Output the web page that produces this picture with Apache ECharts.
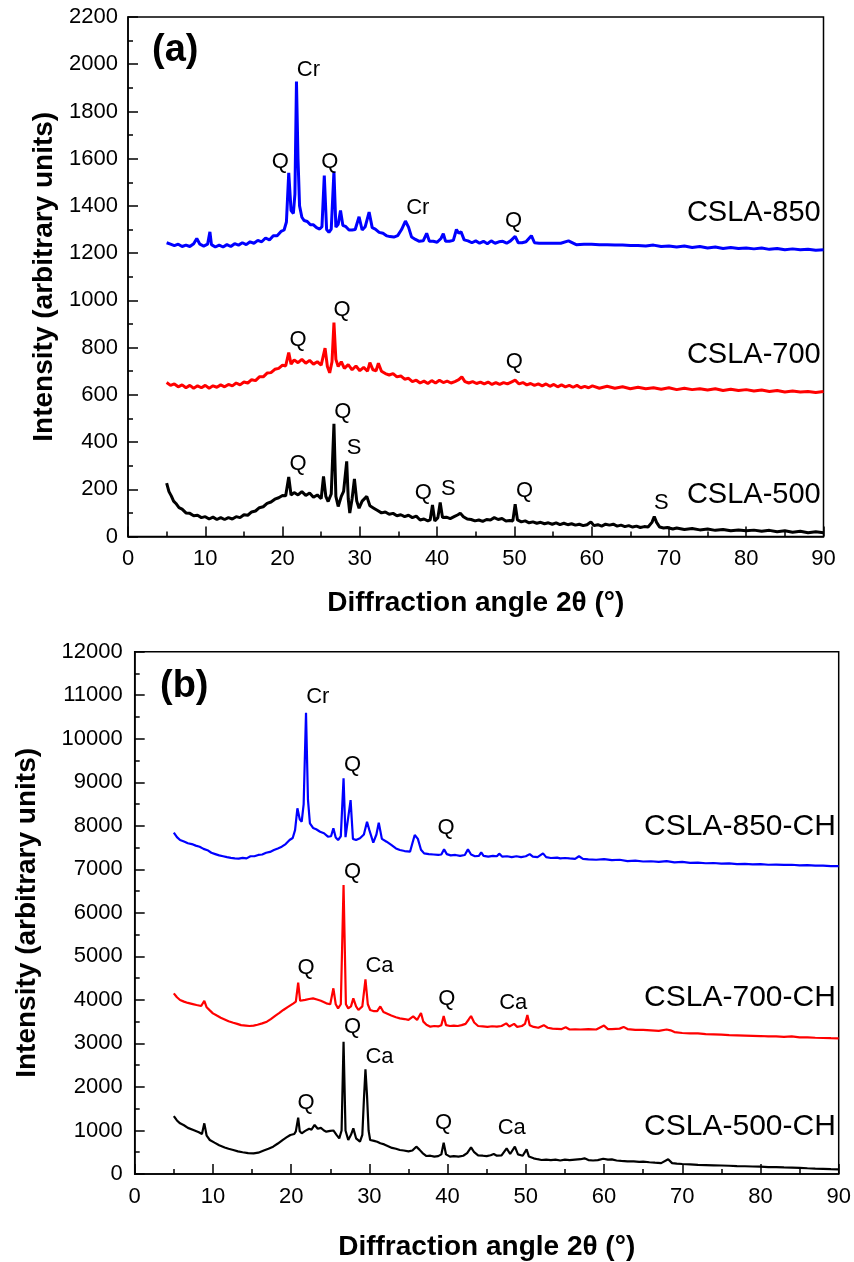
<!DOCTYPE html>
<html>
<head>
<meta charset="utf-8">
<script src="https://cdn.jsdelivr.net/npm/echarts@6/dist/echarts.min.js"></script>
<style>
html,body{margin:0;padding:0;background:#fff;}
#chart{width:854px;height:1262px;}
</style>
</head>
<body>
<div id="chart"></div>
<script>
// ---------- Panel (a) data: [2θ, intensity] ----------
var csla850 = [[5,1244],[5.5,1238],[6,1232],[6.5,1238],[7,1228],[7.5,1234],[8,1228],[8.5,1240],[8.9,1262],[9.3,1238],[9.8,1230],[10.3,1238],[10.6,1290],[10.8,1236],[11.3,1226],[11.8,1234],[12.3,1226],[12.8,1236],[13.3,1228],[13.8,1240],[14.3,1234],[14.8,1244],[15.3,1236],[15.8,1248],[16.3,1242],[16.8,1254],[17.3,1248],[17.8,1264],[18.3,1256],[18.8,1274],[19.3,1274],[19.8,1292],[20.2,1298],[20.5,1332],[20.8,1540],[21.1,1380],[21.4,1368],[21.6,1450],[21.8,1927],[22.0,1600],[22.2,1400],[22.5,1352],[22.8,1338],[23.2,1334],[23.6,1320],[24.0,1320],[24.4,1308],[24.8,1302],[25.1,1312],[25.4,1529],[25.7,1300],[26.0,1288],[26.3,1302],[26.65,1546],[26.9,1310],[27.2,1322],[27.5,1381],[27.8,1318],[28.2,1312],[28.6,1298],[29.0,1298],[29.4,1300],[29.9,1354],[30.3,1298],[30.7,1312],[31.2,1374],[31.6,1308],[32.0,1302],[32.5,1288],[33.0,1284],[33.5,1273],[33.9,1270],[34.4,1268],[34.9,1274],[35.4,1300],[35.9,1336],[36.3,1310],[36.7,1268],[37.2,1258],[37.7,1250],[38.2,1252],[38.65,1284],[39.0,1250],[39.5,1250],[40.0,1246],[40.5,1262],[40.8,1282],[41.1,1250],[41.6,1250],[42.1,1254],[42.5,1300],[42.8,1284],[43.1,1290],[43.5,1256],[44.0,1252],[44.5,1244],[45.0,1252],[45.5,1242],[46.0,1250],[46.5,1240],[47.0,1252],[47.5,1242],[48.0,1248],[48.5,1250],[49.0,1242],[49.5,1252],[50.1,1271],[50.5,1244],[51.0,1244],[51.5,1248],[52.2,1274],[52.6,1244],[53.2,1242],[54.0,1242],[55.0,1242],[56.0,1242],[57.0,1252],[58.0,1236],[59.0,1238],[60.0,1238],[61.0,1236],[62.0,1236],[63.0,1234],[64.0,1234],[65.0,1232],[66.0,1232],[67.0,1230],[68.0,1234],[69.0,1228],[70.0,1230],[71.0,1226],[72.0,1230],[73.0,1224],[74.0,1228],[75.0,1222],[76.0,1226],[77.0,1220],[78.0,1224],[79.0,1220],[80.0,1222],[81.0,1218],[82.0,1222],[83.0,1216],[84.0,1220],[85.0,1214],[86.0,1218],[87.0,1214],[88.0,1216],[89.0,1212],[90.0,1214]];
var csla700 = [[5,652],[5.5,640],[6,646],[6.5,634],[7,642],[7.5,630],[8,640],[8.5,628],[9,638],[9.5,630],[10,640],[10.5,628],[11,638],[11.5,632],[12,642],[12.5,634],[13,644],[13.5,638],[14,650],[14.5,642],[15,654],[15.5,650],[16,664],[16.5,660],[17,676],[17.5,676],[18,692],[18.5,694],[19,708],[19.5,712],[20,726],[20.4,722],[20.8,779],[21.1,730],[21.5,748],[22,736],[22.5,750],[23,734],[23.5,746],[24,730],[24.5,740],[25,726],[25.5,798],[25.8,720],[26.1,693],[26.4,740],[26.65,906],[26.9,750],[27.2,720],[27.6,740],[28,712],[28.5,728],[29,706],[29.5,722],[30,702],[30.5,716],[31,700],[31.3,736],[31.7,706],[32.1,702],[32.4,734],[32.8,700],[33.3,690],[33.8,684],[34.3,690],[34.8,676],[35.3,680],[35.8,666],[36.3,670],[36.8,656],[37.3,662],[37.8,650],[38.3,658],[38.8,648],[39.3,660],[39.8,650],[40.3,662],[40.8,652],[41.3,658],[41.8,650],[42.3,656],[42.8,664],[43.2,676],[43.6,656],[44.1,650],[44.6,656],[45.1,648],[45.6,654],[46.1,646],[46.6,654],[47.1,644],[47.6,652],[48.1,644],[48.6,652],[49.1,646],[49.6,654],[50.1,662],[50.6,646],[51.1,652],[51.6,642],[52.1,648],[52.6,640],[53.1,646],[53.6,638],[54.1,646],[54.6,636],[55.1,644],[55.6,634],[56.1,642],[56.6,634],[57.1,640],[57.6,632],[58.1,640],[58.6,630],[59.1,636],[59.6,630],[60.1,638],[61,628],[62,636],[63,628],[64,634],[65,626],[66,632],[67,626],[68,630],[69,624],[70,630],[71,622],[72,628],[73,622],[74,626],[75,620],[76,626],[77,618],[78,624],[79,618],[80,622],[81,616],[82,620],[83,614],[84,618],[85,612],[86,616],[87,612],[88,614],[89,610],[90,614]];
var csla500 = [[5,226],[5.3,190],[5.6,172],[5.9,150],[6.2,140],[6.6,122],[7,116],[7.5,100],[8,98],[8.5,88],[9,90],[9.5,80],[10,84],[10.5,74],[11,82],[11.5,72],[12,80],[12.5,72],[13,80],[13.5,74],[14,84],[14.5,80],[15,92],[15.5,90],[16,104],[16.5,108],[17,122],[17.5,126],[18,140],[18.5,146],[19,158],[19.5,164],[20,174],[20.4,172],[20.8,252],[21.1,176],[21.5,186],[22,176],[22.5,190],[23,174],[23.5,184],[24,166],[24.5,176],[25,160],[25.3,254],[25.6,170],[25.9,148],[26.3,180],[26.65,477],[26.9,170],[27.2,127],[27.6,170],[27.9,191],[28.3,318],[28.5,160],[28.7,99],[29.0,160],[29.3,244],[29.6,150],[29.9,120],[30.3,150],[30.9,170],[31.3,130],[31.8,120],[32.3,110],[32.8,100],[33.3,104],[33.8,94],[34.3,98],[34.8,88],[35.3,92],[35.8,84],[36.3,90],[36.8,80],[37.3,86],[37.8,70],[38.3,74],[38.8,66],[39.1,70],[39.4,134],[39.7,66],[40.1,80],[40.4,144],[40.7,80],[41.2,82],[41.7,76],[42.2,84],[42.7,92],[43.0,99],[43.4,84],[43.9,74],[44.4,72],[44.9,66],[45.4,70],[45.9,64],[46.4,72],[46.9,70],[47.4,80],[47.9,72],[48.4,76],[48.9,66],[49.4,68],[49.8,66],[50.1,137],[50.4,70],[50.9,62],[51.4,66],[51.9,58],[52.4,62],[52.9,56],[53.4,60],[53.9,54],[54.4,58],[54.9,52],[55.4,58],[55.9,50],[56.4,56],[56.9,50],[57.4,54],[57.9,48],[58.4,52],[58.9,46],[59.4,50],[59.9,62],[60.3,46],[60.8,50],[61.3,44],[61.8,52],[62.3,48],[62.8,52],[63.3,44],[63.8,48],[64.3,42],[64.8,46],[65.3,40],[65.8,44],[66.3,38],[66.8,42],[67.3,40],[67.8,60],[68.1,85],[68.4,60],[68.8,40],[69.3,36],[69.8,38],[70.5,32],[71,36],[72,30],[73,34],[74,28],[75,32],[76,26],[77,30],[78,24],[79,28],[80,24],[81,27],[82,22],[83,26],[84,20],[85,24],[86,18],[87,22],[88,16],[89,20],[90,16]];

// ---------- Panel (b) data ----------
var csla850ch = [[5,7841],[5.4,7740],[5.8,7673],[6.3,7640],[6.8,7600],[7.3,7580],[7.8,7545],[8.3,7520],[8.8,7470],[9.3,7440],[9.8,7380],[10.3,7350],[10.8,7320],[11.3,7300],[11.8,7280],[12.3,7262],[12.8,7252],[13.3,7245],[13.8,7262],[14.3,7252],[14.8,7300],[15.3,7300],[15.8,7330],[16.3,7340],[16.8,7380],[17.3,7400],[17.8,7443],[18.3,7480],[18.8,7520],[19.3,7580],[19.8,7673],[20.2,7720],[20.5,7900],[20.8,8401],[21.1,8150],[21.35,8094],[21.6,8500],[21.9,10598],[22.15,8600],[22.4,8056],[22.8,7950],[23.2,7920],[23.7,7864],[24.2,7830],[24.7,7750],[25.1,7760],[25.4,7941],[25.7,7730],[26.0,7673],[26.35,7760],[26.7,9090],[26.95,7740],[27.2,7712],[27.6,8592],[27.9,7700],[28.3,7673],[28.8,7712],[29.3,7800],[29.7,8094],[30.0,7900],[30.5,7612],[30.9,7800],[31.2,8071],[31.6,7700],[32.2,7635],[32.8,7560],[33.4,7480],[33.9,7443],[34.5,7420],[35.2,7405],[35.5,7600],[35.8,7788],[36.2,7700],[36.6,7450],[37.0,7367],[37.6,7350],[38.2,7340],[38.8,7330],[39.2,7340],[39.55,7459],[39.9,7350],[40.4,7320],[41,7330],[41.6,7310],[42.2,7330],[42.6,7459],[43.0,7340],[43.5,7300],[44.0,7310],[44.3,7390],[44.6,7310],[45.2,7290],[45.8,7310],[46.3,7300],[46.6,7360],[47.0,7290],[47.6,7300],[48.2,7280],[48.8,7300],[49.4,7280],[50.0,7300],[50.5,7350],[50.9,7290],[51.5,7280],[52.2,7367],[52.6,7280],[53.2,7260],[54.0,7270],[54.4,7252],[55.0,7260],[55.6,7250],[56.3,7240],[56.8,7300],[57.3,7240],[58,7230],[59,7220],[60,7235],[61,7210],[62,7220],[63,7190],[64,7200],[65,7180],[66,7185],[67,7170],[68,7190],[69,7160],[70,7170],[71,7150],[72,7155],[73,7140],[74,7145],[75,7130],[76,7135],[77,7120],[78,7125],[79,7115],[80,7120],[81,7105],[82,7110],[83,7100],[84,7105],[85,7090],[86,7095],[87,7085],[88,7085],[89,7075],[90,7075]];
var csla700ch = [[5,4151],[5.4,4060],[5.8,3997],[6.3,3960],[6.8,3930],[7.3,3910],[7.9,3882],[8.5,3860],[8.9,3980],[9.2,3830],[9.6,3760],[10,3691],[10.5,3640],[11,3590],[11.5,3550],[12,3510],[12.6,3476],[13.1,3450],[13.6,3420],[14.2,3410],[14.7,3400],[15.2,3410],[15.7,3430],[16.3,3460],[16.9,3499],[17.4,3560],[18,3640],[18.5,3700],[19,3768],[19.6,3840],[20.3,3921],[20.6,3960],[20.9,4395],[21.15,3980],[21.35,3959],[21.8,4000],[22.3,4020],[22.8,4036],[23.3,4010],[23.8,3980],[24.5,3921],[25.0,3900],[25.4,4266],[25.7,3900],[26.0,3806],[26.35,3900],[26.7,6639],[27.0,3900],[27.3,3806],[27.65,3850],[27.95,4036],[28.3,3850],[28.6,3768],[29.1,3850],[29.5,4473],[29.8,3900],[30.1,3768],[30.6,3740],[31.0,3740],[31.4,3850],[31.8,3720],[32.3,3680],[32.8,3640],[33.4,3600],[33.9,3576],[34.5,3560],[35.0,3540],[35.6,3620],[36.1,3540],[36.6,3700],[36.9,3500],[37.3,3430],[37.8,3385],[38.3,3400],[38.8,3390],[39.2,3420],[39.5,3630],[39.8,3420],[40.3,3400],[40.8,3410],[41.3,3400],[41.8,3420],[42.3,3450],[42.7,3550],[43.0,3630],[43.4,3480],[43.9,3400],[44.5,3390],[45.1,3380],[45.7,3395],[46.3,3385],[46.9,3400],[47.5,3460],[47.9,3390],[48.5,3450],[48.9,3380],[49.5,3400],[49.9,3450],[50.2,3653],[50.5,3420],[51.0,3380],[51.6,3360],[52.3,3420],[52.8,3360],[53.4,3340],[54.0,3335],[54.6,3330],[55.1,3370],[55.6,3320],[56.3,3325],[57,3320],[58,3330],[59,3320],[60.0,3410],[60.5,3330],[61,3330],[62,3340],[62.5,3380],[63,3330],[64,3310],[65,3310],[66,3300],[67,3290],[68,3320],[68.5,3300],[69,3260],[70,3240],[71,3230],[72,3230],[73,3215],[74,3210],[75,3200],[76,3190],[77,3185],[78,3180],[79,3175],[80,3170],[81,3160],[82,3160],[83,3150],[84,3160],[85,3140],[86,3140],[87,3130],[88,3125],[89,3120],[90,3117]];
var csla500ch = [[5,1332],[5.4,1230],[5.8,1164],[6.3,1120],[6.8,1060],[7.5,1011],[8.2,960],[8.6,920],[8.9,1164],[9.2,880],[9.6,781],[10.2,720],[10.8,660],[11.5,610],[12.0,580],[12.6,551],[13.2,520],[13.8,500],[14.5,480],[15.2,475],[15.8,490],[16.5,540],[17.1,580],[17.7,628],[18.3,700],[18.9,780],[19.4,840],[19.9,896],[20.4,920],[20.6,980],[20.9,1293],[21.1,980],[21.35,934],[21.8,990],[22.3,1040],[22.6,1020],[23.0,1126],[23.4,1040],[23.8,1060],[24.2,1000],[24.5,973],[25.0,990],[25.4,1000],[25.8,900],[26.15,819],[26.45,1000],[26.7,3040],[26.95,1000],[27.3,781],[27.65,900],[27.95,1049],[28.3,820],[28.8,742],[29.1,900],[29.3,1700],[29.5,2405],[29.7,1800],[29.9,1000],[30.1,781],[30.6,760],[31.0,740],[31.4,705],[31.9,680],[32.4,640],[32.9,600],[33.4,580],[33.9,551],[34.4,540],[35.0,520],[35.5,540],[36.0,628],[36.4,560],[36.8,480],[37.3,413],[37.8,420],[38.3,400],[38.8,410],[39.2,450],[39.5,720],[39.8,450],[40.3,400],[40.8,410],[41.4,400],[42.0,420],[42.5,480],[43.0,613],[43.4,500],[43.9,430],[44.5,420],[45.0,410],[45.5,430],[45.9,459],[46.3,420],[46.9,430],[47.55,590],[48.0,460],[48.6,628],[49.0,450],[49.6,420],[50.1,567],[50.4,400],[51.0,360],[51.5,340],[52.0,322],[52.6,330],[53.2,320],[53.8,330],[54.4,310],[55.0,330],[55.6,320],[56.3,330],[57.0,340],[57.5,360],[58.0,320],[58.6,310],[59.2,320],[59.9,350],[60.1,383],[60.5,330],[61.0,337],[61.6,310],[62.2,300],[63.0,290],[63.8,290],[64.5,280],[65.0,283],[65.8,270],[66.5,260],[67.3,250],[68.2,337],[68.7,250],[69.3,240],[70,230],[71,220],[72,210],[73,205],[74,200],[75,195],[76,190],[77,180],[78,178],[79,172],[80,169],[81,160],[82,158],[83,150],[84,145],[85,140],[86,132],[87,125],[88,120],[89,112],[90,107]];

// ---------- annotations [2θ, intensity, text] ----------
var peakLabelsA = [[23.35,1977,'Cr'],[19.7,1586,'Q'],[26.1,1586,'Q'],[37.5,1393,'Cr'],[49.9,1338,'Q'],[27.7,960,'Q'],[22.0,834,'Q'],[50.0,741,'Q'],[27.8,526,'Q'],[29.25,376,'S'],[22.0,306,'Q'],[38.2,186,'Q'],[41.45,203,'S'],[51.3,191,'Q'],[69.0,143,'S']];
var sampleLabelsA = [[89.7,1371,'CSLA-850'],[89.7,770,'CSLA-700'],[89.7,177,'CSLA-500']];
var peakLabelsB = [[23.4,10958,'Cr'],[27.85,9395,'Q'],[39.8,7949,'Q'],[27.85,6945,'Q'],[21.9,4726,'Q'],[31.3,4778,'Ca'],[39.9,4013,'Q'],[48.4,3921,'Ca'],[27.85,3370,'Q'],[31.3,2695,'Ca'],[21.9,1638,'Q'],[39.5,1179,'Q'],[48.2,1050,'Ca']];
var sampleLabelsB = [[89.7,7972,'CSLA-850-CH'],[89.7,4043,'CSLA-700-CH'],[89.7,1087,'CSLA-500-CH']];

var FONT = '"Liberation Sans", Arial, Helvetica, sans-serif';

function xAxisCfg(gi, nameGap, margin) {
  return {
    type:'value', gridIndex:gi, min:0, max:90, interval:10,
    name:'Diffraction angle 2\u03b8 (\u00b0)', nameLocation:'middle', nameGap:nameGap,
    nameTextStyle:{fontFamily:FONT, fontSize:28, fontWeight:'bold', color:'#000'},
    axisLine:{show:true, onZero:false, lineStyle:{color:'#000', width:1.5}},
    axisTick:{show:true, inside:true, length:10, lineStyle:{color:'#000', width:1.5}},
    minorTick:{show:true, splitNumber:2, length:5, lineStyle:{color:'#000', width:1.5}},
    splitLine:{show:false}, minorSplitLine:{show:false},
    axisLabel:{fontFamily:FONT, fontSize:22, color:'#000', margin:margin,
      formatter:function(v){return String(v);}}
  };
}
function yAxisCfg(gi, max, interval, nameGap, margin) {
  return {
    type:'value', gridIndex:gi, min:0, max:max, interval:interval,
    name:'Intensity (arbitrary units)', nameLocation:'middle', nameGap:nameGap, nameRotate:90,
    nameTextStyle:{fontFamily:FONT, fontSize:28, fontWeight:'bold', color:'#000'},
    axisLine:{show:true, onZero:false, lineStyle:{color:'#000', width:1.5}},
    axisTick:{show:true, inside:true, length:10, lineStyle:{color:'#000', width:1.5}},
    minorTick:{show:true, splitNumber:2, length:5, lineStyle:{color:'#000', width:1.5}},
    splitLine:{show:false}, minorSplitLine:{show:false},
    axisLabel:{fontFamily:FONT, fontSize:22, color:'#000', margin:margin,
      formatter:function(v){return String(v);}}
  };
}
function lineSeries(data, color, gi, w) {
  return {type:'line', data:data, xAxisIndex:gi, yAxisIndex:gi, showSymbol:false, symbol:'none',
    lineStyle:{color:color, width:w, opacity:1}, itemStyle:{color:color}, silent:true, animation:false, z:2};
}
function textSeries(arr, gi, fontSize, pos) {
  return {type:'scatter', xAxisIndex:gi, yAxisIndex:gi, symbolSize:1, silent:true, animation:false,
    itemStyle:{color:'rgba(255,255,255,0)', opacity:1}, z:5,
    data:arr.map(function(a){return {value:[a[0],a[1]], name:a[2]};}),
    label:{show:true, formatter:'{b}', position:pos, distance:0, fontFamily:FONT, fontSize:fontSize,
      color:'#000000', opacity:1, textBorderWidth:0}};
}

var chart = echarts.init(document.getElementById('chart'), null, {renderer:'canvas'});
chart.setOption({
  backgroundColor:'#ffffff',
  animation:false,
  grid:[
    {left:128, top:17, width:695.5, height:519.5, show:true, borderColor:'#000', borderWidth:1.5, backgroundColor:'rgba(0,0,0,0)'},
    {left:134.7, top:651.7, width:704, height:522.3, show:true, borderColor:'#000', borderWidth:1.5, backgroundColor:'rgba(0,0,0,0)'}
  ],
  xAxis:[xAxisCfg(0,53,11), xAxisCfg(1,59,12)],
  yAxis:[yAxisCfg(0,2200,200,64,10), yAxisCfg(1,12000,1000,93,12)],
  graphic:[
    {type:'text', left:152, top:32, style:{text:'(a)', font:'bold 38px '+FONT, fill:'#000'}},
    {type:'text', left:160, top:668, style:{text:'(b)', font:'bold 38px '+FONT, fill:'#000'}}
  ],
  series:[
    lineSeries(csla500,'#000000',0,3),
    lineSeries(csla700,'#ff0000',0,3),
    lineSeries(csla850,'#0000ff',0,3),
    lineSeries(csla500ch,'#000000',1,2.2),
    lineSeries(csla700ch,'#ff0000',1,2.2),
    lineSeries(csla850ch,'#0000ff',1,2.2),
    textSeries(peakLabelsA,0,22,'inside'),
    textSeries(sampleLabelsA,0,29,'left'),
    textSeries(peakLabelsB,1,22,'inside'),
    textSeries(sampleLabelsB,1,30,'left')
  ]
});
</script>
</body>
</html>
